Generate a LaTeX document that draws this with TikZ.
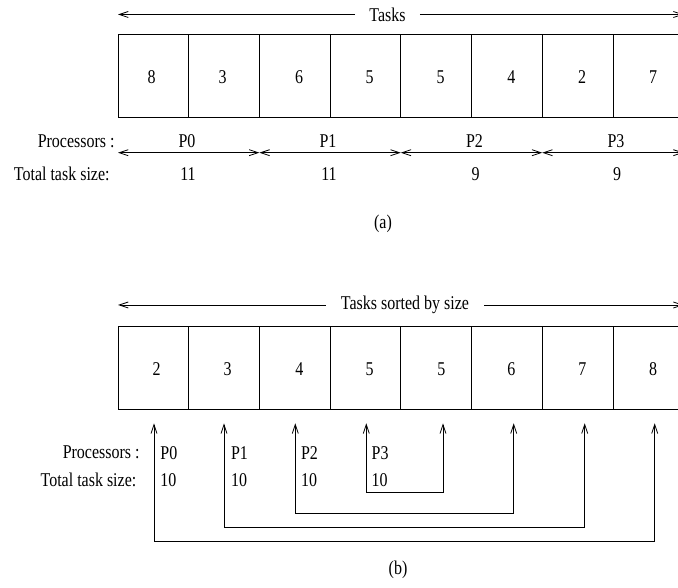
\documentclass[tikz,border=0pt]{standalone}
\usepackage{fontspec}
\setmainfont{Liberation Serif}[FakeStretch=0.82]
\usetikzlibrary{arrows.meta}
\begin{document}
\begin{tikzpicture}[x=1pt,y=-1pt,
  font=\fontsize{19.5}{22}\selectfont,
  line width=0.8pt,
  >={Straight Barb[length=9pt,width=6pt]},
  cell/.style={draw, minimum width=70.7pt, minimum height=83.3pt,
               inner sep=0pt, outer sep=0pt},
  lbl/.style={inner sep=0pt},
  caption/.style={inner sep=0pt}]
\clip (0,0) rectangle (678,588);

% ---------- (a) tasks in original order ----------
\coordinate (tl) at (118,14.5);
\coordinate (tr) at (683.6,14.5);
\node[inner xsep=14pt, inner ysep=0pt] (tasks) at (387.5,14.5) {Tasks};
\draw[->] (tasks.west) -- (tl);
\draw[->] (tasks.east) -- (tr);

\foreach \i in {1,...,8}
  \node[cell] (a\i) at ({118+70.7*(\i-0.5)},75.7) {};
\foreach \v/\x [count=\i] in {8/151.7,3/222.7,6/299,5/369.7,5/440.7,4/511.3,2/582,7/653}
  \node[lbl] (na\i) at (\x,77) {\v};

\node[lbl, anchor=east] (procA) at (115,141) {Processors :};
\node[lbl, anchor=east] (sizeA) at (110,174) {Total task size:};

\foreach \i/\x in {0/118,1/259.4,2/400.8,3/542.2,4/683.6}
  \coordinate (d\i) at (\x,152.7);
\foreach \i/\j in {0/1,1/2,2/3,3/4}
  \draw[<->] (d\i) -- (d\j);

\foreach \p/\x/\s in {0/187/11,1/328/11,2/474.5/9,3/616/9}{
  \node[lbl] (pa\p) at (\x,141) {P\p};
  \node[lbl] (sa\p) at (\x+1,174) {\s};
}
\node[caption] (capa) at (383,224) {(a)};

% ---------- (b) tasks sorted by size ----------
\coordinate (bl) at (118,305);
\coordinate (br) at (683.6,305);
\node[inner xsep=15pt, inner ysep=0pt] (sorted) at (405,305) {Tasks sorted by size};
\draw[->] (sorted.west) -- (bl);
\draw[->] (sorted.east) -- (br);

\foreach \i in {1,...,8}
  \node[cell] (b\i) at ({118+70.7*(\i-0.5)},367.7) {};
\foreach \v/\x [count=\i] in {2/156.7,3/227.7,4/299.3,5/369.7,5/441.3,6/511.3,7/582.3,8/653}
  \node[lbl] (nb\i) at (\x,369) {\v};

% arrow tips under the cells
\foreach \x [count=\i] in {154,224,295.3,366.3,443,513.7,584.7,654.7}
  \coordinate (u\i) at (\x,423.3);
% levels of the connecting brackets
\coordinate (lv3) at (0,492.7);
\coordinate (lv2) at (0,513.3);
\coordinate (lv1) at (0,527.3);
\coordinate (lv0) at (0,541.7);

\draw[<->] (u4) -- (u4 |- lv3) -| (u5);
\draw[<->] (u3) -- (u3 |- lv2) -| (u6);
\draw[<->] (u2) -- (u2 |- lv1) -| (u7);
\draw[<->] (u1) -- (u1 |- lv0) -| (u8);

\node[lbl, anchor=east] (procB) at (140,452.7) {Processors :};
\node[lbl, anchor=east] (sizeB) at (136.7,480) {Total task size:};
\foreach \p/\x in {0/160,1/230.7,2/300.7,3/371.3}{
  \node[lbl, anchor=west] (pb\p) at (\x,452.7) {P\p};
  \node[lbl, anchor=west] (sb\p) at (\x,480) {10};
}
\node[caption] (capb) at (398,570) {(b)};
\end{tikzpicture}
\end{document}
